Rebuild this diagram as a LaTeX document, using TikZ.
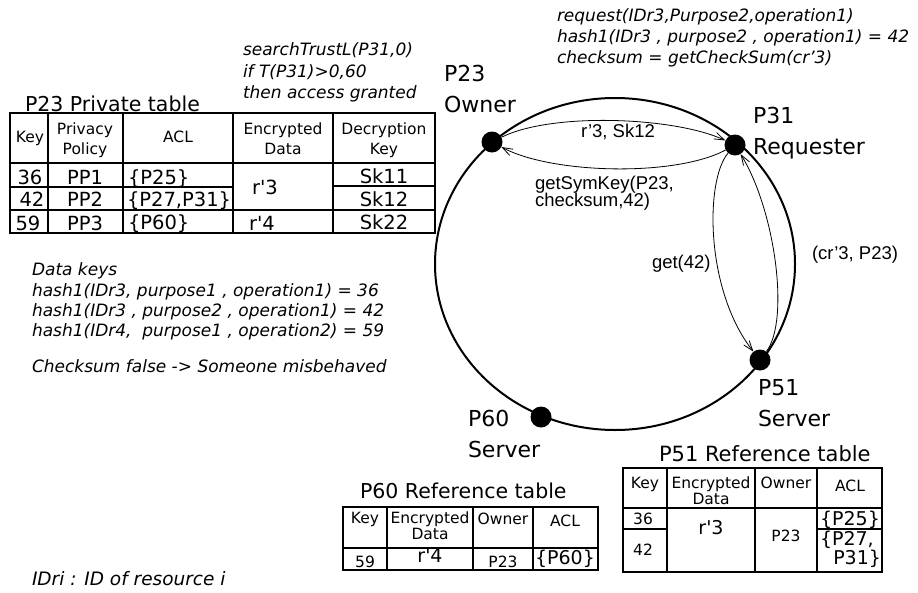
\documentclass[tikz,border=0pt]{standalone}
\usepackage{fontspec}
\setmainfont{DejaVu Sans}
\newfontfamily\lblfont{Liberation Sans}
\usetikzlibrary{arrows.meta}
\newcommand\fsz[2]{\fontsize{#1}{#2}\selectfont}
\newcommand\sq{\textquotesingle}

\begin{document}
\begin{tikzpicture}[x=1pt,y=-1pt,
  txt/.style={inner sep=0pt, outer sep=0pt},
  lab/.style={txt, anchor=base west, font=\fsz{22}{26}},
  note/.style={txt, anchor=base west, font=\fsz{17}{20}\itshape},
  ttl/.style={txt, anchor=base west, font=\fsz{20.5}{24}},
  hd/.style={txt, anchor=base, font=\fsz{15.5}{18}},
  cell/.style={txt, anchor=base, font=\fsz{19.5}{23}},
  small/.style={txt, anchor=base, font=\fsz{15.5}{18}},
  msg/.style={txt, anchor=base west, font=\lblfont\fsz{18.5}{21}},
  peer/.style={circle, fill=black, inner sep=0pt, minimum size=21pt},
  ring/.style={line width=2pt},
  conn/.style={line width=0.8pt, -{Straight Barb[length=10pt,width=7pt]}},
  thickframe/.style={line width=2.6pt},
  thinframe/.style={line width=1.8pt},
  rule/.style={line width=1.3pt},
  headrule/.style={line width=2.2pt},
]
\useasboundingbox[fill=white] (0,0) rectangle (918,592);

% ---- ring of peers ----
\draw[ring] (615,264) ellipse [x radius=180, y radius=166];
\node[peer] (p23) at (492,142) {};
\node[peer] (p31) at (735,145) {};
\node[peer] (p51) at (760,360) {};
\node[peer] (p60) at (541,417) {};

\node[lab] (l23a) at (444,81) {P23};
\node[lab] (l23b) at (444,112) {Owner};
\node[lab] (l31a) at (753,123) {P31};
\node[lab] (l31b) at (753,154) {Requester};
\node[lab] (l51a) at (758,395) {P51};
\node[lab] (l51b) at (758,426) {Server};
\node[lab] (l60a) at (468,426) {P60};
\node[lab] (l60b) at (468,457) {Server};

% ---- messages ----
\draw[conn] (p23) .. controls +(60,-30) and +(-60,-28) .. (p31);
\draw[conn] (p31) .. controls +(-60,32) and +(60,32) .. (p23);
\draw[conn] (p31) .. controls +(-30,35) and +(-55,-70) .. (p51);
\draw[conn] (p51) .. controls +(30,-40) and +(40,65) .. (p31);

\node[msg, anchor=base] (m1) at (618,137) {r’3, Sk12};
\node[msg] (m2a) at (535,189) {getSymKey(P23,};
\node[msg] (m2b) at (535,206) {checksum,42)};
\node[msg] (m3) at (652,268) {get(42)};
\node[msg] (m4) at (812,259) {(cr’3, P23)};

% ---- notes ----
\node[note] (n1) at (243,55) {searchTrustL(P31,0)};
\node[note] (n2) at (243,77) {if T(P31)>0,60};
\node[note] (n3) at (243,98) {then access granted};

\node[note] (r1) at (557,21) {request(IDr3,Purpose2,operation1)};
\node[note] (r2) at (557,42) {hash1(IDr3 , purpose2 , operation1) = 42};
\node[note] (r3) at (557,63) {checksum = getCheckSum(cr’3)};

\node[note] (k0) at (32,275) {Data keys};
\node[note] (k1) at (32,296) {hash1(IDr3, purpose1 , operation1) = 36};
\node[note] (k2) at (32,316) {hash1(IDr3 , purpose2 , operation1) = 42};
\node[note] (k3) at (32,336) {hash1(IDr4,\ \ purpose1 , operation2) = 59};
\node[note] (k4) at (32,372) {Checksum false -> Someone misbehaved};
\node[note, font=\fsz{18.5}{22}\itshape] (idr) at (32,585) {IDri : ID of resource i};

% ---- P23 private table ----
\node[ttl] (t23) at (25,111) {P23 Private table};
\draw[rule] (48,113) -- (48,233) (123,113) -- (123,233)
            (233,113) -- (233,233) (333,113) -- (333,233);
\draw[rule] (10,163) -- (435,163);
\draw[rule] (10,187) -- (233,187) (333,186) -- (435,186);
\draw[rule] (10,210) -- (435,210);
\draw[thickframe] (10,113) rectangle (435,233);

\node[hd] (h1) at (30,142) {Key};
\node[hd] (h2a) at (85,134) {Privacy};
\node[hd] (h2b) at (85,154) {Policy};
\node[hd] (h3) at (178,142) {ACL};
\node[hd] (h4a) at (283,134) {Encrypted};
\node[hd] (h4b) at (283,154) {Data};
\node[hd] (h5a) at (384,134) {Decryption};
\node[hd] (h5b) at (384,154) {Key};

\node[cell] (a1) at (30,184) {36};
\node[cell] (a2) at (85,184) {PP1};
\node[cell, anchor=base west] (a3) at (128,184) {\{P25\}};
\node[cell] (a5) at (384,183) {Sk11};
\node[cell] (b1) at (32,206) {42};
\node[cell] (b2) at (85,206) {PP2};
\node[cell, anchor=base west] (b3) at (127,206) {\{P27,P31\}};
\node[cell] (b5) at (384,206) {Sk12};
\node[cell] (c1) at (28,230) {59};
\node[cell] (c2) at (85,230) {PP3};
\node[cell, anchor=base west] (c3) at (128,229) {\{P60\}};
\node[cell] (c4) at (262,230) {r\sq 4};
\node[cell] (c5) at (384,229) {Sk22};
\node[cell] (ab4) at (265,194) {r\sq 3};

% ---- P51 reference table ----
\node[ttl, font=\fsz{21}{24}] (t51) at (659,461) {P51 Reference table};
\draw[rule] (667,468) -- (667,572) (755,468) -- (755,572) (817,468) -- (817,572);
\draw[headrule] (623,508) -- (882,508);
\draw[rule] (623,529) -- (667,529) (817,529) -- (882,529);
\draw[thinframe] (623,468) rectangle (882,572);

\node[hd] (q1) at (645,488) {Key};
\node[hd] (q2a) at (711,488) {Encrypted};
\node[hd] (q2b) at (711,504) {Data};
\node[hd] (q3) at (786,488) {Owner};
\node[hd] (q4) at (850,491) {ACL};
\node[small] (s1) at (643,524) {36};
\node[small] (s2) at (643,555) {42};
\node[cell, font=\fsz{19}{22}] (s3) at (711,534) {r\sq 3};
\node[small] (s4) at (786,541) {P23};
\node[cell, font=\fsz{19}{22}] (s5) at (850,525) {\{P25\}};
\node[cell, font=\fsz{19}{22}, anchor=base west] (s6) at (820,545) {\{P27,};
\node[cell, font=\fsz{19}{22}, anchor=base east] (s7) at (881,564) {P31\}};

% ---- P60 reference table ----
\node[ttl] (t60) at (360,498) {P60 Reference table};
\draw[rule] (387,507) -- (387,570) (473,507) -- (473,570) (533,507) -- (533,570);
\draw[headrule] (343,548) -- (598,548);
\draw[thinframe] (343,507) rectangle (598,570);

\node[hd] (w1) at (365,523) {Key};
\node[hd] (w2a) at (430,523) {Encrypted};
\node[hd] (w2b) at (430,539) {Data};
\node[hd] (w3) at (503,524) {Owner};
\node[hd] (w4) at (565,526) {ACL};
\node[small] (v1) at (365,567) {59};
\node[cell, font=\fsz{19}{22}] (v2) at (430,562) {r\sq 4};
\node[small] (v3) at (503,567) {P23};
\node[cell, font=\fsz{19}{22}] (v4) at (565,564) {\{P60\}};
\end{tikzpicture}
\end{document}
